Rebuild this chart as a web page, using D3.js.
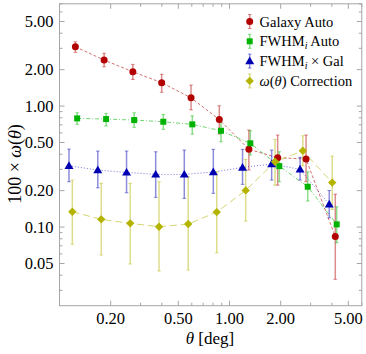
<!DOCTYPE html>
<html>
<head>
<meta charset="utf-8">
<script src="https://cdn.jsdelivr.net/npm/d3@7"></script>
<style>
body { margin: 0; background: #fff; }
</style>
</head>
<body>
<div class="container"></div>
<script>
// data: [theta, value, low, high]
const galaxyAuto = [
  [0.124, 3.09, 2.78, 3.40], [0.183, 2.40, 2.11, 2.73], [0.270, 1.92, 1.66, 2.21],
  [0.399, 1.56, 1.30, 1.83], [0.594, 1.17, 0.93, 1.49], [0.871, 0.773, 0.587, 1.006],
  [1.30, 0.439, 0.296, 0.634], [1.92, 0.374, 0.222, 0.576], [2.82, 0.365, 0.237, 0.576],
  [4.19, 0.0835, 0.037, 0.187]
];
const fwhmAuto = [
  [0.127, 0.791, 0.706, 0.880], [0.188, 0.781, 0.684, 0.870], [0.275, 0.766, 0.667, 0.880],
  [0.408, 0.742, 0.642, 0.854], [0.604, 0.706, 0.587, 0.831], [0.891, 0.625, 0.507, 0.766],
  [1.326, 0.492, 0.394, 0.625], [1.963, 0.319, 0.237, 0.419], [2.885, 0.2155, 0.164, 0.286],
  [4.27, 0.1053, 0.0742, 0.147]
];
const fwhmGal = [
  [0.1137, 0.321, 0.237, 0.441], [0.168, 0.296, 0.211, 0.425], [0.248, 0.283, 0.192, 0.425],
  [0.368, 0.2725, 0.176, 0.419], [0.542, 0.2725, 0.1727, 0.433], [0.803, 0.285, 0.190, 0.439],
  [1.193, 0.311, 0.2254, 0.439], [1.77, 0.332, 0.2445, 0.433], [2.60, 0.300, 0.2445, 0.377],
  [3.86, 0.1543, 0.1193, 0.2003]
];
const wCorrection = [
  [0.119, 0.1338, 0.0721, 0.2445], [0.176, 0.1158, 0.0587, 0.2297], [0.2606, 0.1073, 0.0495, 0.2297],
  [0.385, 0.1006, 0.0433, 0.2368], [0.5716, 0.1059, 0.0441, 0.2604], [0.841, 0.133, 0.0613, 0.2864],
  [1.245, 0.201, 0.1121, 0.3627], [1.852, 0.3465, 0.222, 0.530], [2.70, 0.427, 0.321, 0.568],
  [4.02, 0.233, 0.140, 0.386]
];
const xTicks = [0.2, 0.5, 1, 2, 5];
const yTicks = [0.05, 0.1, 0.2, 0.5, 1, 2, 5];

const series = [
  {name: "galaxy", data: galaxyAuto, color: "#b30000", shape: "circle", dash: "3,2"},
  {name: "fwhm", data: fwhmAuto, color: "#00b300", shape: "square", dash: "4,2,1,2"},
  {name: "cross", data: fwhmGal, color: "#0000b3", shape: "triangle", dash: "1,2"},
  {name: "corr", data: wCorrection, color: "#b3b300", shape: "diamond", dash: "7,4"}
];

const w = 366, h = 354;
const padL = 59.5, padR = 361.8, padT = 3.8, padB = 305.7;
const serif = "'Liberation Serif', 'Times New Roman', Times, 'DejaVu Serif', serif";

const xScale = d3.scaleLog().domain([0.1, 6]).range([padL, padR]);
const yScale = d3.scaleLog().domain([0.0224, 7]).range([padB, padT]);

const svg = d3.select(".container").append("svg")
  .attr("width", w).attr("height", h)
  .attr("font-family", serif);

// minor tick values
const minorX = [], minorY = [];
[0.1, 1].forEach(dec => { for (let k = 1; k <= 9; k++) { const v = +(k * dec).toFixed(3); if (v >= 0.1 && v <= 6) minorX.push(v); } });
[0.01, 0.1, 1].forEach(dec => { for (let k = 1; k <= 9; k++) { const v = +(k * dec).toFixed(4); if (v >= 0.0224 && v <= 7) minorY.push(v); } });

const frame = svg.append("g");
const grey = "#a6a6a6";
frame.append("rect").attr("x", padL).attr("y", padT)
  .attr("width", padR - padL).attr("height", padB - padT)
  .attr("fill", "none").attr("stroke", grey).attr("stroke-width", 1);

minorX.forEach(v => {
  const len = xTicks.includes(v) ? 5 : 3;
  const x = xScale(v);
  frame.append("line").attr("x1", x).attr("x2", x).attr("y1", padB).attr("y2", padB - len).attr("stroke", grey);
  frame.append("line").attr("x1", x).attr("x2", x).attr("y1", padT).attr("y2", padT + len).attr("stroke", grey);
});
minorY.forEach(v => {
  const len = yTicks.includes(v) ? 5 : 3;
  const y = yScale(v);
  frame.append("line").attr("x1", padL).attr("x2", padL + len).attr("y1", y).attr("y2", y).attr("stroke", grey);
  frame.append("line").attr("x1", padR).attr("x2", padR - len).attr("y1", y).attr("y2", y).attr("stroke", grey);
});

// tick labels
svg.selectAll(".xlab").data(xTicks).enter().append("text")
  .attr("x", d => xScale(d)).attr("y", 323.5)
  .attr("text-anchor", "middle").style("font-size", "16.5px")
  .text(d => d.toFixed(2));
svg.selectAll(".ylab").data(yTicks).enter().append("text")
  .attr("x", 53.5).attr("y", d => yScale(d) + 5.5)
  .attr("text-anchor", "end").style("font-size", "16.5px")
  .text(d => d.toFixed(2));

// axis titles
const xt = svg.append("text").attr("x", 210).attr("y", 344)
  .attr("text-anchor", "middle").style("font-size", "17px");
xt.append("tspan").style("font-style", "italic").text("θ");
xt.append("tspan").text(" [deg]");

const yt = svg.append("text").attr("transform", "translate(21,164) rotate(-90)")
  .attr("text-anchor", "middle").style("font-size", "18px");
yt.append("tspan").text("100 × ");
yt.append("tspan").style("font-style", "italic").text("ω");
yt.append("tspan").text("(");
yt.append("tspan").style("font-style", "italic").text("θ");
yt.append("tspan").text(")");

function marker(g, shape, color) {
  if (shape === "circle") g.append("circle").attr("r", 3.5).attr("fill", color);
  else if (shape === "square") g.append("rect").attr("x", -3).attr("y", -3).attr("width", 6).attr("height", 6).attr("fill", color);
  else if (shape === "triangle") g.append("path").attr("d", "M0,-4.5L4.5,3.2L-4.5,3.2Z").attr("fill", color);
  else g.append("path").attr("d", "M0,-4.2L4.2,0L0,4.2L-4.2,0Z").attr("fill", color);
}

const plot = svg.append("g");
const line = d3.line().x(d => xScale(d[0])).y(d => yScale(d[1]));

series.forEach(s => {
  const g = plot.append("g");
  g.append("path").datum(s.data).attr("d", line)
    .attr("fill", "none").attr("stroke", s.color).attr("stroke-opacity", 0.55)
    .attr("stroke-width", 1).attr("stroke-dasharray", s.dash);
  const eb = g.selectAll(".eb").data(s.data).enter().append("g")
    .attr("stroke", s.color).attr("stroke-opacity", 0.45);
  eb.append("line").attr("x1", d => xScale(d[0])).attr("x2", d => xScale(d[0]))
    .attr("y1", d => yScale(d[2])).attr("y2", d => yScale(d[3])).attr("stroke-width", 1.5);
  eb.append("line").attr("x1", d => xScale(d[0]) - 1.8).attr("x2", d => xScale(d[0]) + 1.8)
    .attr("y1", d => yScale(d[2])).attr("y2", d => yScale(d[2]));
  eb.append("line").attr("x1", d => xScale(d[0]) - 1.8).attr("x2", d => xScale(d[0]) + 1.8)
    .attr("y1", d => yScale(d[3])).attr("y2", d => yScale(d[3]));
});
series.forEach(s => {
  s.data.forEach(d => {
    const m = plot.append("g").attr("transform", `translate(${xScale(d[0])},${yScale(d[1])})`);
    marker(m, s.shape, s.color);
  });
});

// legend
const legend = svg.append("g");
const legendRows = [
  [["Galaxy Auto", ""]],
  [["FWHM", ""], ["i", "sub"], [" Auto", "up"]],
  [["FWHM", ""], ["i", "sub"], [" × Gal", "up"]],
  [["ω", "it"], ["(", ""], ["θ", "it"], [") Correction", ""]]
];
series.forEach((s, i) => {
  const cy = 21.5 + i * 19.8;
  const row = legend.append("g");
  row.append("line").attr("x1", 249.7).attr("x2", 249.7).attr("y1", cy - 7).attr("y2", cy + 7)
    .attr("stroke", s.color).attr("stroke-opacity", 0.45).attr("stroke-width", 1.5);
  [cy - 7, cy + 7].forEach(yy => row.append("line").attr("x1", 247.9).attr("x2", 251.5)
    .attr("y1", yy).attr("y2", yy).attr("stroke", s.color).attr("stroke-opacity", 0.45));
  const m = row.append("g").attr("transform", `translate(249.7,${cy})`);
  marker(m, s.shape, s.color);
  const t = row.append("text").attr("x", 259.5).attr("y", cy + 5).style("font-size", "14.5px");
  legendRows[i].forEach(p => {
    const sp = t.append("tspan").text(p[0]);
    if (p[1] === "it") sp.style("font-style", "italic");
    if (p[1] === "sub") sp.style("font-style", "italic").style("font-size", "10px").attr("dy", 3);
    if (p[1] === "up") sp.attr("dy", -3);
  });
});
</script>
</body>
</html>
